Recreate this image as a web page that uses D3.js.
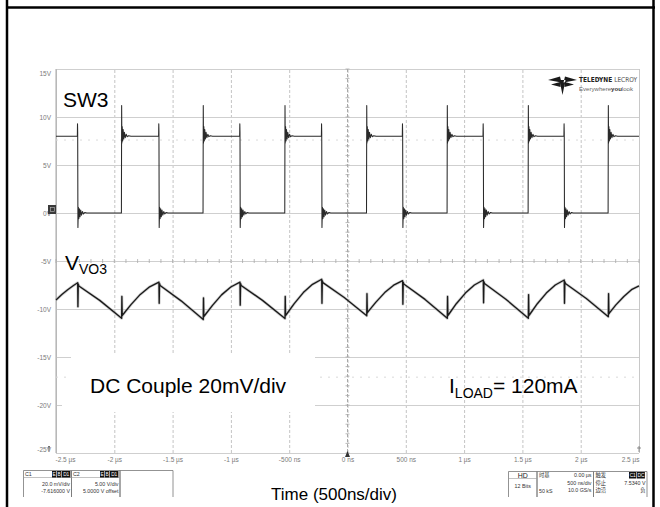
<!DOCTYPE html>
<html><head><meta charset="utf-8">
<script src="https://cdn.jsdelivr.net/npm/d3@7"></script>
<style>
html,body{margin:0;padding:0;background:#fff;}
svg{display:block;font-family:"Liberation Sans",Arial,sans-serif;}
</style></head><body>
<svg id="c" width="660" height="507"></svg>
<script>
// ---- axis data ----
const timeTicks = [-2.5,-2,-1.5,-1,-0.5,0,0.5,1,1.5,2,2.5];
const timeTickLabels = ["-2.5 µs","-2 µs","-1.5 µs","-1 µs","-500 ns","0 ns","500 ns","1 µs","1.5 µs","2 µs","2.5 µs"];
const voltTicks = [15,10,5,0,-5,-10,-15,-20,-25];
const voltTickLabels = ["15V","10V","5V","0V","-5V","-10V","-15V","-20V","-25V"];

// ---- SW3 switching node (V, time in µs) ----
const sw3FallEdges = [-2.314,-1.617,-0.922,-0.221,0.473,1.165,1.859];
const sw3RiseEdges = [-1.937,-1.237,-0.536,0.165,0.856,1.551,2.237];
const sw3FallShape = [[-0.003,8.0],[-0.0015,9.3],[0,8.4],[0.002,-1.5],[0.006,0.6],[0.010,-0.6],[0.015,0.45],[0.020,-0.4],[0.026,0.3],[0.033,-0.22],[0.041,0.15],[0.050,-0.1],[0.062,0.06],[0.078,0.0]];
const sw3RiseShape = [[-0.002,0.0],[0,11.2],[0.002,7.3],[0.005,9.0],[0.009,7.5],[0.013,8.7],[0.018,7.7],[0.024,8.4],[0.031,7.85],[0.039,8.2],[0.048,7.95],[0.060,8.05],[0.080,8.0]];
const sw3Start = [-2.5, 8.0];
const sw3End = [2.5, 8.0];

// ---- V_VO3 output ripple (displayed volts, time in µs) ----
const vo3Points = [
 [-2.5,-9.05],[-2.45,-8.5],[-2.40,-8.0],[-2.35,-7.55],
 [-2.314,-7.26],[-2.312,-9.76],[-2.309,-7.4],[-2.304,-7.6],[-2.125,-9.1],
 [-1.937,-10.97],[-1.935,-8.7],[-1.932,-10.7],[-1.927,-10.6],[-1.857,-9.54],[-1.777,-8.48],[-1.697,-7.69],
 [-1.617,-7.2],[-1.615,-9.4],[-1.612,-7.35],[-1.607,-7.55],[-1.427,-9.15],
 [-1.237,-11.1],[-1.235,-8.85],[-1.232,-10.8],[-1.227,-10.7],[-1.158,-9.62],[-1.080,-8.53],[-1.001,-7.71],
 [-0.922,-7.2],[-0.920,-9.6],[-0.917,-7.35],[-0.912,-7.55],[-0.729,-9.1],
 [-0.536,-11.0],[-0.534,-8.7],[-0.531,-10.7],[-0.526,-10.6],[-0.457,-9.44],[-0.379,-8.29],[-0.300,-7.43],
 [-0.221,-6.9],[-0.219,-9.4],[-0.216,-7.05],[-0.211,-7.25],[-0.028,-8.8],
 [0.165,-10.7],[0.167,-8.4],[0.170,-10.4],[0.175,-10.3],[0.242,-9.31],[0.319,-8.29],[0.396,-7.52],
 [0.473,-7.05],[0.475,-9.5],[0.478,-7.2],[0.483,-7.4],[0.665,-9.0],
 [0.856,-10.97],[0.858,-8.7],[0.861,-10.7],[0.866,-10.6],[0.933,-9.45],[1.011,-8.34],[1.088,-7.5],
 [1.165,-6.98],[1.167,-9.35],[1.170,-7.15],[1.175,-7.35],[1.358,-8.98],
 [1.551,-10.97],[1.553,-8.5],[1.556,-10.7],[1.561,-10.6],[1.628,-9.45],[1.705,-8.34],[1.782,-7.5],
 [1.859,-6.98],[1.861,-9.4],[1.864,-7.15],[1.869,-7.35],[2.048,-8.9],
 [2.237,-10.8],[2.239,-8.4],[2.242,-10.5],[2.247,-10.4],[2.30,-9.6],[2.37,-8.7],[2.44,-7.95],[2.5,-7.6]
];

const svg = d3.select("#c");
const plot = {l:56, r:639, t:69, b:453};
const x = d3.scaleLinear().domain([-2.5,2.5]).range([plot.l, plot.r]);
const y = d3.scaleLinear().domain([-25,15]).range([plot.b, plot.t]);
const pw = plot.r - plot.l, ph = plot.b - plot.t;

// ---- outer frame ----
svg.append("line").attr("x1",7).attr("x2",7).attr("y1",0).attr("y2",507).attr("stroke","#000").attr("stroke-width",2.5);
svg.append("line").attr("x1",653.5).attr("x2",653.5).attr("y1",0).attr("y2",507).attr("stroke","#000").attr("stroke-width",2.5);
svg.append("line").attr("x1",6).attr("x2",655).attr("y1",7.5).attr("y2",7.5).attr("stroke","#000").attr("stroke-width",2.5);

// ---- vertical grid (dashed) + time labels ----
const gx = svg.append("g").attr("transform",`translate(0,${plot.b})`)
  .call(d3.axisBottom(x).tickValues(timeTicks).tickFormat((d,i)=>timeTickLabels[i]).tickSize(-ph).tickPadding(4));
gx.select(".domain").remove();
gx.selectAll(".tick line").attr("stroke","#c4c4c4").attr("stroke-width",1).attr("stroke-dasharray","3,2")
  .filter(d=>d===-2.5||d===2.5).attr("stroke-dasharray",null).attr("stroke","#c8c8c8");
gx.selectAll(".tick text").attr("fill","#7a7a7a").style("font-size","6.5px").style("font-family","Liberation Sans, Arial");
gx.selectAll(".tick text").filter(d=>d===-2.5).attr("text-anchor","start").attr("dx",-1);
gx.selectAll(".tick text").filter(d=>d===2.5).attr("text-anchor","end").attr("dx",0);

// ---- horizontal grid (solid) + volt labels ----
const gy = svg.append("g").attr("transform",`translate(${plot.l},0)`)
  .call(d3.axisLeft(y).tickValues(voltTicks).tickFormat((d,i)=>voltTickLabels[i]).tickSize(-pw).tickPadding(5));
gy.select(".domain").remove();
gy.selectAll(".tick line").attr("stroke","#cfcfcf").attr("stroke-width",1.2);
gy.selectAll(".tick text").attr("fill","#7a7a7a").style("font-size","6.5px").style("font-family","Liberation Sans, Arial");
gy.selectAll(".tick text").filter(d=>d===15).attr("dy","0.95em");
gy.selectAll(".tick text").filter(d=>d===-25).attr("dy","-0.2em");

// left border
svg.append("line").attr("x1",plot.l).attr("x2",plot.l).attr("y1",plot.t).attr("y2",plot.b).attr("stroke","#a8a8a8").attr("stroke-width",1);

// center cross with minor ticks
const cx = x(0), cy = y(-5);
svg.append("line").attr("x1",cx).attr("x2",cx).attr("y1",plot.t).attr("y2",plot.b).attr("stroke","#a8a8a8").attr("stroke-dasharray","3,2");
const minorV = d3.range(-25,15.01,1);
svg.append("g").selectAll("line").data(minorV).join("line")
  .attr("x1",cx-2).attr("x2",cx+2).attr("y1",d=>y(d)).attr("y2",d=>y(d)).attr("stroke","#aaa").attr("stroke-width",0.8);
const minorT = d3.range(-2.5,2.501,0.1);
svg.append("g").selectAll("line").data(minorT).join("line")
  .attr("x1",d=>x(d)).attr("x2",d=>x(d)).attr("y1",cy-2).attr("y2",cy+2).attr("stroke","#aaa").attr("stroke-width",0.8);

// faint dotted level markers
[7.6,-17.1].forEach(v=>{
  svg.append("line").attr("x1",plot.l).attr("x2",plot.r).attr("y1",y(v)).attr("y2",y(v))
    .attr("stroke","#dadada").attr("stroke-width",1).attr("stroke-dasharray","2,6");
});

// ---- white annotation box (left) ----
svg.append("rect").attr("x",71).attr("y",354).attr("width",244).attr("height",28).attr("fill","#fff");
svg.append("rect").attr("x",62).attr("y",380).attr("width",253).attr("height",32).attr("fill","#fff");

// ---- traces ----
const line = d3.line().x(d=>x(d[0])).y(d=>y(d[1]));

const events = sw3FallEdges.map(t=>({t,shape:sw3FallShape}))
  .concat(sw3RiseEdges.map(t=>({t,shape:sw3RiseShape})))
  .sort((a,b)=>a.t-b.t);
const sw3Points = [sw3Start];
events.forEach(e=>e.shape.forEach(([dt,v])=>sw3Points.push([e.t+dt,v])));
sw3Points.push(sw3End);

svg.append("path").datum(sw3Points).attr("d",line).attr("fill","none")
  .attr("stroke","#2a2a2a").attr("stroke-width",1.05).attr("stroke-linejoin","round");

svg.append("path").datum(vo3Points).attr("d",line).attr("fill","none")
  .attr("stroke","#a0a0a0").attr("stroke-width",2.8).attr("stroke-opacity",0.5).attr("stroke-linejoin","round");
svg.append("path").datum(vo3Points).attr("d",line).attr("fill","none")
  .attr("stroke","#1a1a1a").attr("stroke-width",1.35).attr("stroke-linejoin","round");

// ---- markers ----
svg.append("rect").attr("x",48).attr("y",205).attr("width",8).attr("height",9).attr("fill","#3a3a3a");
svg.append("rect").attr("x",50.5).attr("y",207.5).attr("width",4).attr("height",4).attr("fill","none").attr("stroke","#bbb").attr("stroke-width",0.6);
svg.append("path").attr("d",`M${cx-2.5},457 L${cx+2.5},457 L${cx},451 Z`).attr("fill","#333");
svg.append("path").attr("d","M48,446 L50,446 L49,452 Z").attr("fill","#666");
svg.append("path").attr("d","M637,448 L641,448 M639,446 L639,452").attr("stroke","#777").attr("stroke-width",0.8);

// ---- logo ----
const logo = svg.append("g");
logo.append("path").attr("d","M548,80 L560,76.5 L561.5,82.5 Z M577,80 L565,76.5 L563.5,82.5 Z M559.5,80 L565.5,80 L562.5,95 Z M551,84.5 L560,82 L560.5,87 Z M574,84.5 L565,82 L564.5,87 Z").attr("fill","#1a1a1a");
logo.append("text").attr("x",579).attr("y",82).style("font-size","6.8px").style("font-family","DejaVu Sans Condensed, DejaVu Sans").attr("fill","#222")
  .attr("textLength",58).attr("lengthAdjust","spacingAndGlyphs")
  .call(t=>{t.append("tspan").style("font-weight","bold").text("TELEDYNE "); t.append("tspan").attr("fill","#555").text("LECROY");});
logo.append("text").attr("x",579).attr("y",91).style("font-size","5.6px").attr("fill","#666")
  .attr("textLength",54).attr("lengthAdjust","spacingAndGlyphs")
  .call(t=>{t.append("tspan").text("Everywhere"); t.append("tspan").style("font-weight","bold").attr("fill","#333").text("you"); t.append("tspan").text("look");});

// ---- labels ----
svg.append("text").attr("x",63).attr("y",107).style("font-size","21px").attr("fill","#000").text("SW3");
svg.append("text").attr("x",65).attr("y",270).style("font-size","21px").attr("fill","#000")
  .call(t=>{t.append("tspan").text("V"); t.append("tspan").attr("dy",4).style("font-size","14px").text("VO3");});
svg.append("text").attr("x",90).attr("y",393).style("font-size","21px").attr("fill","#000").text("DC Couple 20mV/div");
svg.append("text").attr("x",449).attr("y",393).style("font-size","21px").attr("fill","#000")
  .call(t=>{t.append("tspan").text("I"); t.append("tspan").attr("dy",5).style("font-size","14px").text("LOAD"); t.append("tspan").attr("dy",-5).text("= 120mA");});
svg.append("text").attr("x",334).attr("y",500).attr("text-anchor","middle").style("font-size","17px").attr("fill","#000").text("Time (500ns/div)");

// ---- info boxes ----
const info = svg.append("g").style("font-size","5.3px").attr("fill","#333");
function box(x0,x1,y0){
  info.append("path").attr("d",`M${x0},497 L${x0},${y0} L${x1},${y0} L${x1},497`).attr("fill","none").attr("stroke","#777").attr("stroke-width",0.8);
}
function badge(xs,texts,y0){
  texts.forEach((s,i)=>{
    info.append("rect").attr("x",xs[i]).attr("y",y0).attr("width",xs[i+1]-xs[i]-0.6).attr("height",6.5).attr("fill","#111");
    info.append("text").attr("x",(xs[i]+xs[i+1])/2-0.3).attr("y",y0+5).attr("text-anchor","middle").attr("fill","#fff").style("font-size","4.8px").text(s);
  });
}
function txt(xp,yp,s,anchor,font){
  const t = info.append("text").attr("x",xp).attr("y",yp).attr("text-anchor",anchor||"start").text(s);
  if(font) t.style("font-family",font);
  return t;
}
box(23.5,71.5,470.5); box(71.5,120,470.5); box(120,173,470.5);
info.append("line").attr("x1",23.5).attr("x2",120).attr("y1",477.5).attr("y2",477.5).attr("stroke","#999").attr("stroke-width",0.6);
txt(25,476,"C1"); badge([52,57,62,71],["E","B","D1"],471);
txt(70,485.5,"20.0 mV/div","end"); txt(70,492.5,"-7.616000 V","end");
txt(73,476,"C2"); badge([100,105,110,119],["E","B","D1"],471);
txt(118.5,485.5,"5.00 V/div","end"); txt(118.5,492.5,"5.0000 V offset","end");

const cjk = "Noto Sans CJK SC";
box(508.5,537,471.5); box(537,593.5,471.5); box(593.5,647,471.5);
info.append("line").attr("x1",508.5).attr("x2",537).attr("y1",478.5).attr("y2",478.5).attr("stroke","#999").attr("stroke-width",0.6);
txt(522.7,477.5,"HD","middle").style("font-size","7px").attr("fill","#222");
txt(522.7,488,"12 Bits","middle");
txt(539,477,"时基","start",cjk); txt(591.5,477,"0.00 µs","end");
txt(591.5,484.5,"500 ns/div","end");
txt(539,493,"50 kS"); txt(591.5,492,"10.0 GS/s","end");
txt(595.5,477,"触发","start",cjk); badge([629,637,645.5],["C1","DC"],472);
txt(595.5,484.5,"停止","start",cjk); txt(645.5,484.5,"7.5340 V","end");
txt(595.5,492,"边沿","start",cjk); txt(645.5,492,"负","end",cjk);
</script>
</body></html>
